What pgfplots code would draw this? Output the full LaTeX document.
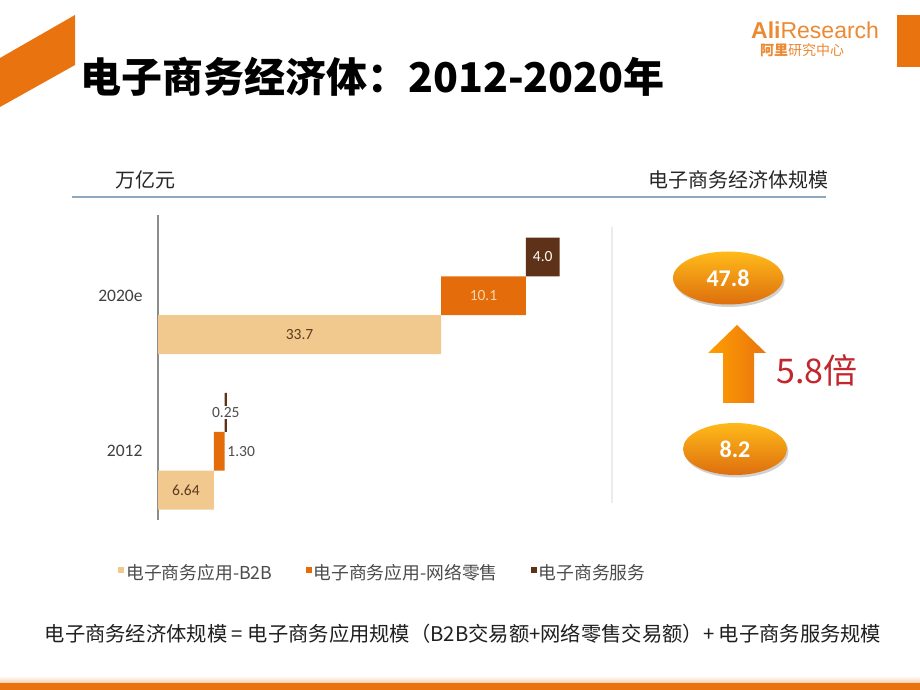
\documentclass[border=0pt]{standalone}
\usepackage{fontspec}
\setmainfont{Carlito}
\newfontfamily\cjk{Noto Sans CJK SC}
\newfontfamily\lib{Liberation Sans}
\usepackage{pgfplots}
\pgfplotsset{compat=1.18}
\definecolor{btan}{HTML}{F1C88E}
\definecolor{borange}{HTML}{E46C0A}
\definecolor{bbrown}{HTML}{5E3218}
\definecolor{logoor}{HTML}{E9740F}
\definecolor{axgray}{HTML}{8C8C8C}
\definecolor{linblue}{HTML}{8DA8BF}
\definecolor{redtxt}{HTML}{C1272D}
\definecolor{labbrown}{HTML}{5B3A1E}
\pgfplotsset{sq legend/.style={legend image code/.code={\path[##1,draw=none] (0pt,-0.5pt) rectangle (6pt,5.5pt);}}}
\begin{document}
\begin{tikzpicture}[x=1pt,y=1pt]
\path[use as bounding box] (0,0) rectangle (920,690);
\fill[white] (0,0) rectangle (920,690);
% decorations
\fill[logoor] (0,632) -- (75,675) -- (75,625) -- (0,583) -- cycle;
\fill[logoor] (897,675) rectangle (920,623);
\node[anchor=west,inner sep=0pt,text=logoor!85,font=\lib\fontsize{23}{26}\selectfont] at (751,660) {\textbf{Ali}Research};
\node[anchor=west,inner sep=0pt,text=logoor!85,font=\cjk\fontsize{14}{16}\selectfont] at (760,640) {\textbf{阿里}研究中心};
\node[anchor=base west,inner sep=0pt,font=\cjk\bfseries\fontsize{41}{46}\selectfont] at (80,597) {电子商务经济体：2012-2020年};
\node[anchor=west,inner sep=0pt,text=black!85,font=\cjk\fontsize{20}{22}\selectfont] at (115,510) {万亿元};
\node[anchor=east,inner sep=0pt,text=black!85,font=\cjk\fontsize{20}{22}\selectfont] at (829,510) {电子商务经济体规模};
\draw[linblue,line width=1.2pt] (72,493) -- (826,493);
\draw[black!8,line width=1.5pt] (612,463) -- (612,187);
% bottom band
\shade[top color=white,bottom color=logoor!35] (0,7) rectangle (920,14);
\fill[logoor] (0,0) rectangle (920,7);
% right panel
\fill[black!18] (729.5,409.5) ellipse [x radius=55, y radius=26.5];
\shade[top color=orange!60!yellow!90!white, bottom color=logoor!95!black] (728,412) ellipse [x radius=55, y radius=26.5];
\node[text=white,font=\bfseries\fontsize{24}{26}\selectfont] at (728,412) {47.8};
\fill[black!18] (736.5,238.5) ellipse [x radius=52, y radius=26];
\shade[top color=orange!60!yellow!90!white, bottom color=logoor!95!black] (735,241) ellipse [x radius=52, y radius=26];
\node[text=white,font=\bfseries\fontsize{24}{26}\selectfont] at (735,241) {8.2};
\shade[left color=orange!75!yellow, right color=logoor] (723,287) -- (754,287) -- (754,337) -- (766,337) -- (737,365) -- (708,337) -- (723,337) -- cycle;
\node[anchor=west,inner sep=0pt,text=redtxt,font=\cjk\fontsize{34}{36}\selectfont] at (776,320) {5.8倍};
\node[inner sep=0pt,text=black!88,font=\cjk\fontsize{20.3}{22}\selectfont] at (463,56) {电子商务经济体规模 = 电子商务应用规模（B2B交易额+网络零售交易额）+ 电子商务服务规模};
% chart
\begin{axis}[
  at={(158pt,170pt)}, anchor=south west,
  scale only axis, width=420pt, height=305pt,
  xbar stacked, bar width=1,
  xmin=0, xmax=50, ymin=-0.77, ymax=7.08,
  axis x line=none, axis y line*=left,
  y axis line style={axgray,line width=1.6pt},
  ytick={1,5}, yticklabels={2012,2020e},
  major tick length=0pt,
  yticklabel style={text=black!75,font=\fontsize{17.5}{20}\selectfont,xshift=-12pt},
  clip=false,
  legend style={at={(axis description cs:-0.095,-0.172)},anchor=west,draw=none,fill=none,
    inner sep=0pt,legend columns=3,font=\cjk\fontsize{17.8}{20}\selectfont,text=black!70,
    /tikz/every even column/.append style={column sep=31pt}},
  legend cell align=left,
]
\addplot[draw=none,fill=none,forget plot] coordinates {(0,0) (6.64,1) (7.94,2) (0,4) (33.7,5) (43.8,6)};
\addplot[draw=none,fill=btan,sq legend] coordinates {(6.64,0) (0,1) (0,2) (33.7,4) (0,5) (0,6)};
\addplot[draw=none,fill=borange,sq legend] coordinates {(0,0) (1.30,1) (0,2) (0,4) (10.1,5) (0,6)};
\addplot[draw=none,fill=bbrown,sq legend] coordinates {(0,0) (0,1) (0.25,2) (0,4) (0,5) (4.0,6)};
\legend{电子商务应用-B2B,电子商务应用-网络零售,电子商务服务}
\coordinate (L1) at (axis cs:3.32,0);
\coordinate (L2) at (axis cs:8.0,1);
\coordinate (L3) at (axis cs:8.07,2);
\coordinate (L4) at (axis cs:16.85,4);
\coordinate (L5) at (axis cs:38.75,5);
\coordinate (L6) at (axis cs:45.8,6);
\end{axis}
\node[text=labbrown,font=\fontsize{15.5}{17}\selectfont] at (L1) {6.64};
\node[anchor=west,text=black!70,font=\fontsize{15.5}{17}\selectfont,inner sep=2pt] at (L2) {1.30};
\node[fill=white,text=black!70,font=\fontsize{15.5}{17}\selectfont,inner sep=1.5pt] at (L3) {0.25};
\node[text=labbrown,font=\fontsize{15.5}{17}\selectfont] at (L4) {33.7};
\node[text=btan!70!white,font=\fontsize{15.5}{17}\selectfont] at (L5) {10.1};
\node[text=white!92!btan,font=\fontsize{15.5}{17}\selectfont] at (L6) {4.0};
\end{tikzpicture}
\end{document}
